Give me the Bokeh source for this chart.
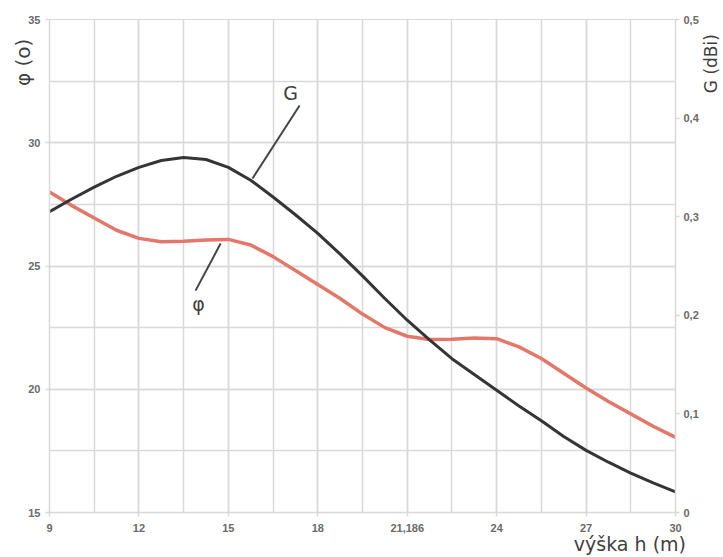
from math import pi
from bokeh.plotting import figure
from bokeh.models import Range1d, LinearAxis, FixedTicker, Label
from bokeh.embed import file_html
from bokeh.resources import INLINE

# ---- data ----
h = [9, 9.75, 10.5, 11.25, 12, 12.75, 13.5, 14.25, 15, 15.75, 16.5, 17.25, 18, 18.75,
     19.5, 20.25, 21, 21.75, 22.5, 23.25, 24, 24.75, 25.5, 26.25, 27, 27.75, 28.5, 29.25, 30]
phi = [28.0, 27.45, 26.95, 26.45, 26.12, 25.98, 26.0, 26.05, 26.08, 25.85, 25.38, 24.82, 24.25, 23.68,
       23.05, 22.5, 22.15, 22.02, 22.03, 22.08, 22.05, 21.72, 21.25, 20.65, 20.05, 19.5, 19.0, 18.5, 18.05]
gain = [0.305, 0.318, 0.330, 0.341, 0.350, 0.357, 0.360, 0.358, 0.350, 0.337, 0.320, 0.302, 0.283, 0.262,
        0.240, 0.217, 0.195, 0.175, 0.156, 0.140, 0.124, 0.108, 0.093, 0.077, 0.063, 0.051, 0.040, 0.030, 0.021]

x_ticks = [9, 12, 15, 18, 21, 24, 27, 30]
x_tick_labels = ["9", "12", "15", "18", "21,186", "24", "27", "30"]
x_minor = [9, 10.5, 12, 13.5, 15, 16.5, 18, 19.5, 21, 22.5, 24, 25.5, 27, 28.5, 30]
y_ticks = [15, 20, 25, 30, 35]
y_minor = [15, 17.5, 20, 22.5, 25, 27.5, 30, 32.5, 35]
g_ticks = [0, 0.1, 0.2, 0.3, 0.4, 0.5]
g_tick_labels = ["0", "0,1", "0,2", "0,3", "0,4", "0,5"]

# annotation leader lines
g_lead_x = [17.39, 15.81]
g_lead_y = [31.51, 28.55]
phi_lead_x = [14.74, 13.90]
phi_lead_y = [25.91, 24.0]

GRID = "#d9d9d9"
TICKC = "#6a6a6a"
TITLEC = "#3f3f3f"

p = figure(width=723, height=557, x_range=Range1d(9, 30), y_range=Range1d(15, 35),
           output_backend="svg", toolbar_location=None,
           min_border_left=49, min_border_right=48, min_border_top=19, min_border_bottom=45)
p.outline_line_color = GRID
p.background_fill_color = "white"

p.extra_y_ranges = {"g": Range1d(0, 0.5)}

p.xaxis.ticker = FixedTicker(ticks=x_ticks, minor_ticks=x_minor)
p.xaxis.major_label_overrides = {t: l for t, l in zip(x_ticks, x_tick_labels)}
p.yaxis.ticker = FixedTicker(ticks=y_ticks, minor_ticks=y_minor)

ax_r = LinearAxis(y_range_name="g", ticker=FixedTicker(ticks=g_ticks))
ax_r.major_label_overrides = {t: l for t, l in zip(g_ticks, g_tick_labels)}
p.add_layout(ax_r, "right")

for ax in [p.xaxis[0], p.yaxis[0], ax_r]:
    ax.axis_line_color = GRID
    ax.axis_line_width = 1.5
    ax.major_tick_line_color = GRID
    ax.major_tick_line_width = 1.5
    ax.major_tick_in = 0
    ax.major_tick_out = 4
    ax.minor_tick_line_color = None
    ax.major_label_text_font = "Liberation Sans"
    ax.major_label_text_font_style = "bold"
    ax.major_label_text_font_size = "11px"
    ax.major_label_text_color = TICKC
p.xaxis.major_label_standoff = 7
p.yaxis.major_label_standoff = 5
ax_r.major_label_standoff = 4

for g in [p.xgrid[0], p.ygrid[0]]:
    g.grid_line_color = GRID
    g.grid_line_width = 1.5
    g.minor_grid_line_color = GRID
    g.minor_grid_line_width = 1.5

# curves
p.line(h, phi, line_color="#e3786a", line_width=3.5)
p.line(h, gain, line_color="#353535", line_width=3, y_range_name="g")

# leader lines
p.line(g_lead_x, g_lead_y, line_color="#454545", line_width=2)
p.line(phi_lead_x, phi_lead_y, line_color="#454545", line_width=2)

p.add_layout(Label(x=17.09, y=32.0, text="G", text_align="center", text_baseline="middle",
                   text_font="DejaVu Sans", text_font_size="19px", text_color=TITLEC))
p.add_layout(Label(x=14.0, y=23.45, text="φ", text_align="center", text_baseline="middle",
                   text_font="DejaVu Sans", text_font_size="19px", text_color=TITLEC))

# axis titles, placed in side panels so that they are not clipped to the frame
p.add_layout(Label(x=8.11, y=33.26, text="φ (o)", angle=pi / 2, text_align="center",
                   text_baseline="middle", text_font="DejaVu Sans", text_font_size="20px",
                   text_color=TITLEC), "left")
p.add_layout(Label(x=31.2, y=33.21, text="G (dBi)", angle=pi / 2, text_align="center",
                   text_baseline="middle", text_font="DejaVu Sans", text_font_size="17px",
                   text_color=TITLEC), "right")
p.add_layout(Label(x=28.47, y=13.74, text="výška h (m)", text_align="center",
                   text_baseline="middle", text_font="DejaVu Sans", text_font_size="19px",
                   text_color=TITLEC), "below")

open("out.html", "w").write(file_html(p, INLINE))
